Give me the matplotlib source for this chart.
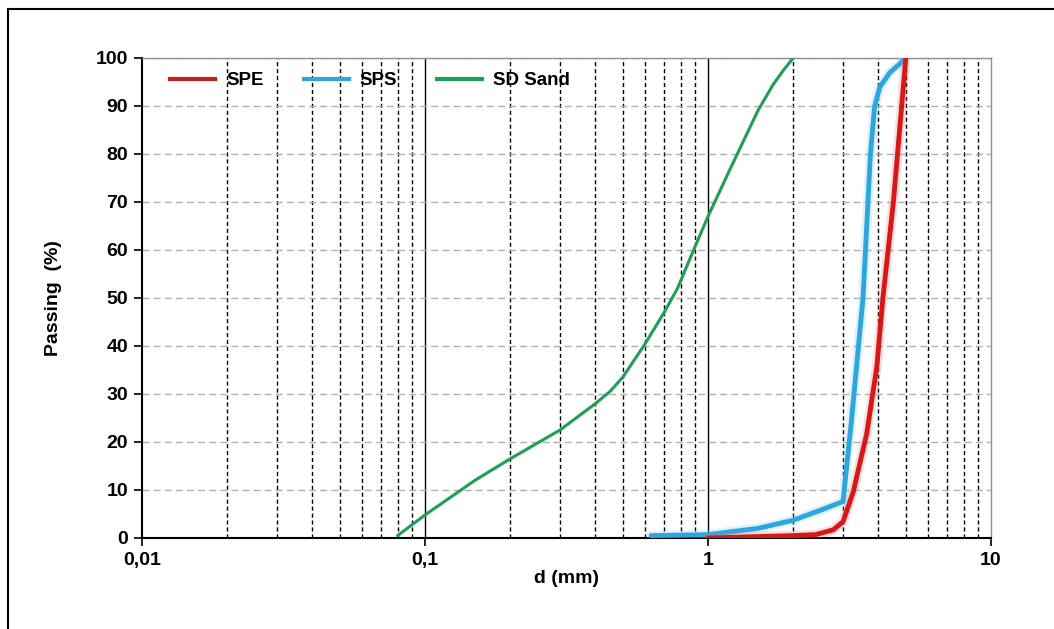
import matplotlib
matplotlib.use("Agg")
import matplotlib.pyplot as plt
import matplotlib.patheffects as pe
from matplotlib.lines import Line2D

plt.rcParams['font.family'] = ['Liberation Sans', 'DejaVu Sans']
plt.rcParams['font.weight'] = 'bold'

# ---------- data ----------
spe_d = [1.0, 1.5, 2.0, 2.4, 2.77, 3.0, 3.26, 3.64, 3.95, 4.15, 4.52, 5.0]
spe_p = [0.0, 0.3, 0.5, 0.7, 1.7, 3.4, 9.6, 21.8, 35.7, 50.0, 70.0, 100.0]

sps_d = [0.63, 1.0, 1.5, 2.0, 2.5, 3.0, 3.22, 3.53, 3.75, 3.88, 4.05, 4.4, 4.7, 5.0]
sps_p = [0.5, 0.7, 2.0, 3.7, 5.8, 7.6, 25.0, 50.0, 80.0, 90.0, 94.0, 97.0, 98.5, 100.0]

sand_d = [0.08, 0.1, 0.15, 0.2, 0.3, 0.4, 0.45, 0.5, 0.6, 0.7, 0.78, 0.9, 1.0, 1.2, 1.5, 1.7, 1.85, 2.0]
sand_p = [0.5, 4.8, 12.0, 16.5, 22.5, 28.0, 30.5, 33.5, 40.5, 47.0, 52.0, 60.7, 67.0, 77.0, 89.0, 94.5, 97.5, 100.0]

x_ticks = [0.01, 0.1, 1, 10]
x_labels = ["0,01", "0,1", "1", "10"]
y_ticks = list(range(0, 101, 10))
# ---------------------------

fig = plt.figure(figsize=(10.54, 6.29), dpi=100)
ax = fig.add_axes([142 / 1054, 1 - 538 / 629, (991 - 142) / 1054, (538 - 58) / 629])

ax.set_xscale('log')
ax.set_xlim(0.01, 10)
ax.set_ylim(0, 100)

# vertical grid: solid at decades, dashed at minor
for dec in [0.01, 0.1, 1]:
    for k in range(2, 10):
        ax.axvline(dec * k, color='black', lw=1.0, ls=(0, (3, 2)), zorder=1)
for v in [0.1, 1]:
    ax.axvline(v, color='black', lw=1.0, zorder=1)
for y in y_ticks[1:]:
    ax.axhline(y, color='#b0b0b0', lw=1.0, ls=(0, (5, 3)), zorder=1)

glow = lambda c: [pe.Stroke(linewidth=7, foreground=c, alpha=0.25), pe.Normal()]

ax.plot(spe_d, spe_p, color='#d81818', lw=3.5, zorder=4,
        path_effects=glow('#e08080'), solid_capstyle='round', solid_joinstyle='round')
ax.plot(sps_d, sps_p, color='#2ea6dc', lw=3.5, zorder=3,
        path_effects=glow('#80c8ee'), solid_capstyle='round', solid_joinstyle='round')
ax.plot(sand_d, sand_p, color='#1f9e55', lw=2.2, zorder=5,
        solid_capstyle='round', solid_joinstyle='round')

ax.set_xticks(x_ticks)
ax.set_xticklabels(x_labels)
ax.xaxis.set_minor_locator(matplotlib.ticker.NullLocator())
ax.set_yticks(y_ticks)
ax.tick_params(axis='both', which='major', direction='out', length=6, width=1.2,
               labelsize=14, pad=4)

for s in ['left', 'bottom']:
    ax.spines[s].set_linewidth(1.5)
    ax.spines[s].set_color('black')
for s in ['top', 'right']:
    ax.spines[s].set_linewidth(1.0)
    ax.spines[s].set_color('#909090')

ax.set_xlabel("d (mm)", fontsize=14, fontweight='bold', labelpad=1)
ax.set_ylabel("Passing  (%)", fontsize=14, fontweight='bold', labelpad=24)

handles = [Line2D([], [], color='#c02020', lw=3),
           Line2D([], [], color='#2ea6dc', lw=3),
           Line2D([], [], color='#1f9e55', lw=3)]
leg = ax.legend(handles, ["SPE", "SPS", "SD Sand"], loc='upper left', ncol=3,
                frameon=False, fontsize=13.5, handlelength=2.4, handletextpad=0.6,
                columnspacing=2.1, bbox_to_anchor=(0.017, 1.0), borderaxespad=0.35)
leg.set_zorder(6)

# outer border (left and top visible)
fig.add_artist(Line2D([8 / 1054, 8 / 1054], [0, 1 - 9 / 629], color='black', lw=1.5,
                      transform=fig.transFigure))
fig.add_artist(Line2D([8 / 1054, 1], [1 - 9 / 629, 1 - 9 / 629], color='black', lw=1.5,
                      transform=fig.transFigure))

fig.savefig("out.png", dpi=100)
